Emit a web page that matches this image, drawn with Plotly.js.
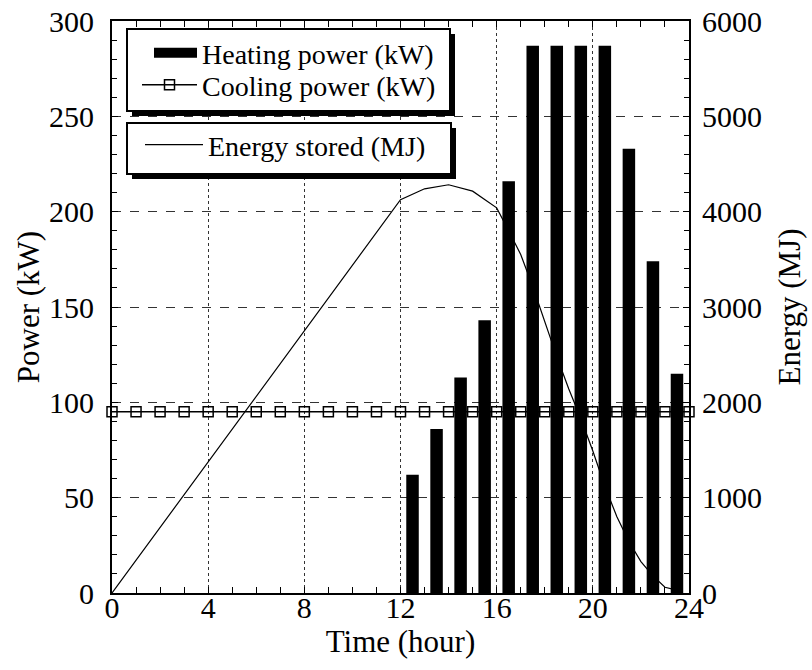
<!DOCTYPE html>
<html>
<head>
<meta charset="utf-8">
<script src="https://cdn.plot.ly/plotly-3.0.1.min.js"></script>
<style>
  html, body { margin: 0; padding: 0; background: #ffffff; }
  #chart { width: 812px; height: 670px; }
</style>
</head>
<body>
<div id="chart"></div>
<script>
// ---- data ----
const heatingHours = [12.5, 13.5, 14.5, 15.5, 16.5, 17.5, 18.5, 19.5, 20.5, 21.5, 22.5, 23.5];
const heatingPower = [62, 86, 113, 143, 216, 287, 287, 287, 287, 233, 174, 115];

const coolingHours = [0, 1, 2, 3, 4, 5, 6, 7, 8, 9, 10, 11, 12, 13, 14, 15, 16, 17, 18, 19, 20, 21, 22, 23, 24];
const coolingPower = [95, 95, 95, 95, 95, 95, 95, 95, 95, 95, 95, 95, 95, 95, 95, 95, 95, 95, 95, 95, 95, 95, 95, 95, 95];

const energyHours = [0, 1, 2, 3, 4, 5, 6, 7, 8, 9, 10, 11, 12, 13, 14, 15, 16, 16.5, 17, 17.5, 18, 18.5, 19, 19.5, 20, 20.5, 21, 21.5, 22, 22.5, 23, 23.5];
const energyStored = [0, 344, 688, 1031, 1375, 1719, 2063, 2406, 2750, 3094, 3438, 3781, 4125, 4240, 4282, 4215, 4040, 3800, 3550, 3215, 2850, 2480, 2140, 1830, 1490, 1120, 800, 540, 330, 180, 60, 30];

const xTickVals = [0, 4, 8, 12, 16, 20, 24];
const powerTickVals = [0, 50, 100, 150, 200, 250, 300];
const energyTickVals = [0, 1000, 2000, 3000, 4000, 5000, 6000];

const seriesNames = ['Heating power (kW)', 'Cooling power (kW)', 'Energy stored (MJ)'];
const axisTitles = { x: 'Time (hour)', power: 'Power (kW)', energy: 'Energy (MJ)' };

// ---- geometry helpers (plot area in pixels) ----
const PL = 112, PR = 689, PT = 21, PB = 593;
const px = v => (v - PL) / (PR - PL);
const py = v => (PB - v) / (PB - PT);

const FONT = 'Liberation Serif';

const traces = [
  { // energy line drawn on the base (right) axis so bars cover it
    type: 'scatter', mode: 'lines',
    x: energyHours, y: energyStored,
    xaxis: 'x', yaxis: 'y',
    line: { color: '#000', width: 1.2 },
    name: seriesNames[2], legend: 'legend3', showlegend: true,
    hoverinfo: 'skip'
  },
  {
    type: 'bar',
    x: heatingHours, y: heatingPower,
    xaxis: 'x', yaxis: 'y2',
    width: 0.52,
    marker: { color: '#000', line: { width: 0 } },
    name: seriesNames[0], showlegend: false,
    hoverinfo: 'skip'
  },
  { // legend entry for the bars (wide black swatch)
    type: 'scatter', mode: 'lines',
    x: [null], y: [null],
    xaxis: 'x', yaxis: 'y2',
    line: { color: '#000', width: 12 },
    name: seriesNames[0], legend: 'legend', showlegend: true
  },
  {
    type: 'scatter', mode: 'lines+markers',
    x: coolingHours, y: coolingPower,
    xaxis: 'x', yaxis: 'y2',
    line: { color: '#000', width: 1.5 },
    marker: { symbol: 'square-open', size: 10, color: '#000', line: { width: 1.5, color: '#000' } },
    cliponaxis: false,
    name: seriesNames[1], legend: 'legend2', showlegend: true,
    hoverinfo: 'skip'
  }
];

const shadow = 5;
function boxShapes(x0, y0, x1, y1) {
  return [
    { type: 'rect', xref: 'paper', yref: 'paper', layer: 'above',
      x0: px(x0 + shadow), x1: px(x1 + shadow), y0: py(y0 + shadow), y1: py(y1 + shadow),
      fillcolor: '#000', line: { width: 0 } },
    { type: 'rect', xref: 'paper', yref: 'paper', layer: 'above',
      x0: px(x0), x1: px(x1), y0: py(y0), y1: py(y1),
      fillcolor: '#fff', line: { color: '#000', width: 2 } }
  ];
}

const legendBase = {
  bgcolor: 'rgba(0,0,0,0)', borderwidth: 0,
  font: { family: FONT, size: 28, color: '#000' },
  xanchor: 'left', yanchor: 'middle', valign: 'middle',
  orientation: 'v'
};

const layout = {
  width: 812, height: 670,
  margin: { l: PL, r: 812 - PR, t: PT, b: 670 - PB, pad: 0 },
  paper_bgcolor: '#fff', plot_bgcolor: '#fff',
  font: { family: FONT, size: 30, color: '#000' },
  showlegend: true,
  barmode: 'overlay',
  xaxis: {
    range: [0, 24], tickmode: 'array', tickvals: xTickVals,
    ticks: 'inside', ticklen: 6, tickwidth: 1, tickcolor: '#000',
    showline: true, linecolor: '#000', linewidth: 2, mirror: 'allticks',
    showgrid: true, gridcolor: '#333', gridwidth: 1, griddash: 'dot',
    zeroline: false,
    ticklabelstandoff: -13,
    minor: { dtick: 1, ticks: 'inside', ticklen: 5, tickcolor: '#000', tickwidth: 1, showgrid: false },
    tickfont: { family: FONT, size: 30, color: '#000' },
    title: { text: axisTitles.x, font: { family: FONT, size: 31, color: '#000' }, standoff: 0 }
  },
  yaxis: {
    side: 'right', range: [0, 6000], tickmode: 'array', tickvals: energyTickVals,
    ticks: 'inside', ticklen: 6, tickwidth: 1, tickcolor: '#000',
    showline: true, linecolor: '#000', linewidth: 2,
    showgrid: false, zeroline: false,
    ticklabelstandoff: 5,
    minor: { dtick: 200, ticks: 'inside', ticklen: 5, tickcolor: '#000', tickwidth: 1, showgrid: false },
    tickfont: { family: FONT, size: 30, color: '#000' },
    title: { text: axisTitles.energy, font: { family: FONT, size: 31, color: '#000' }, standoff: 17 }
  },
  yaxis2: {
    side: 'left', overlaying: 'y', range: [0, 300], tickmode: 'array', tickvals: powerTickVals,
    ticks: 'inside', ticklen: 6, tickwidth: 1, tickcolor: '#000',
    showline: true, linecolor: '#000', linewidth: 2,
    showgrid: true, gridcolor: '#333', gridwidth: 1, griddash: 'dash',
    zeroline: false,
    ticklabelstandoff: 10,
    minor: { dtick: 10, ticks: 'inside', ticklen: 5, tickcolor: '#000', tickwidth: 1, showgrid: false },
    tickfont: { family: FONT, size: 30, color: '#000' },
    title: { text: axisTitles.power, font: { family: FONT, size: 31, color: '#000' }, standoff: 0 }
  },
  legend: Object.assign({}, legendBase, { x: px(149), y: py(53), itemwidth: 43 }),
  legend2: Object.assign({}, legendBase, { x: px(137), y: py(85), itemwidth: 55 }),
  legend3: Object.assign({}, legendBase, { x: px(140), y: py(145), itemwidth: 58 }),
  shapes: [].concat(boxShapes(127, 29, 450, 111), boxShapes(127, 123, 451, 174))
};

Plotly.newPlot('chart', traces, layout, { staticPlot: true, displayModeBar: false });
</script>
</body>
</html>
